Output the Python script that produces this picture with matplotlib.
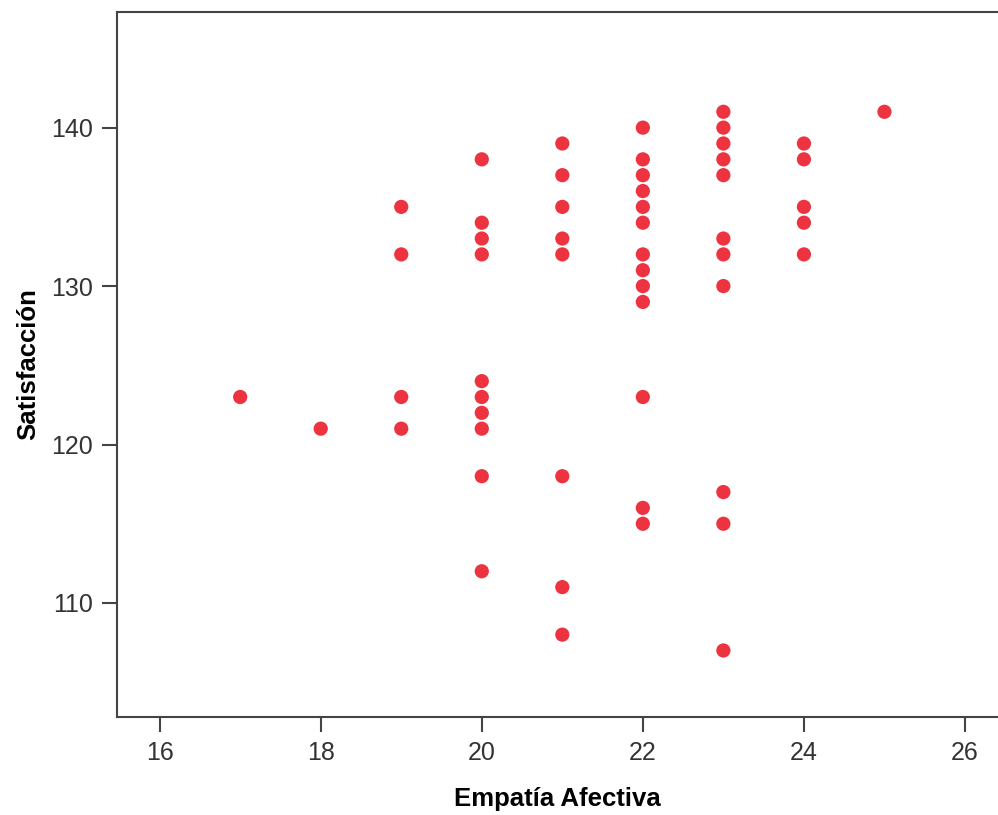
import matplotlib.pyplot as plt

# Empatia Afectiva (x) and Satisfaccion (y), one entry per point
empatia = (
    [17]
    + [18]
    + [19] * 4
    + [20] * 10
    + [21] * 8
    + [22] * 13
    + [23] * 11
    + [24] * 5
    + [25]
)
satisfaccion = (
    [123]
    + [121]
    + [135, 132, 123, 121]
    + [138, 134, 133, 132, 124, 123, 122, 121, 118, 112]
    + [139, 137, 135, 133, 132, 118, 111, 108]
    + [140, 138, 137, 136, 135, 134, 132, 131, 130, 129, 123, 116, 115]
    + [141, 140, 139, 138, 137, 133, 132, 130, 117, 115, 107]
    + [139, 138, 135, 134, 132]
    + [141]
)
x_ticks = [16, 18, 20, 22, 24, 26]
y_ticks = [110, 120, 130, 140]

plt.rcParams['font.family'] = ['Liberation Sans', 'DejaVu Sans']

fig = plt.figure(figsize=(9.98, 8.15), dpi=100)
ax = fig.add_axes([0.1172, 0.1202, 0.8828, 0.8651])

ax.scatter(empatia, satisfaccion, s=105, color='#ee3340', edgecolors='none')

ax.set_xlim(15.47, 26.41)
ax.set_ylim(102.8, 147.3)
ax.set_xticks(x_ticks)
ax.set_yticks(y_ticks)

ax.spines['right'].set_visible(False)
for side in ['left', 'bottom', 'top']:
    ax.spines[side].set_color('#444444')
    ax.spines[side].set_linewidth(1.5)

ax.tick_params(direction='out', length=11, width=1.5, color='#444444',
               labelsize=18, labelcolor='#333333', pad=6)

ax.set_xlabel('Empatía Afectiva', fontsize=18.5, fontweight='bold', labelpad=16)
ax.set_ylabel('Satisfacción', fontsize=18.5, fontweight='bold', labelpad=8)

fig.savefig('out.png', dpi=100)
